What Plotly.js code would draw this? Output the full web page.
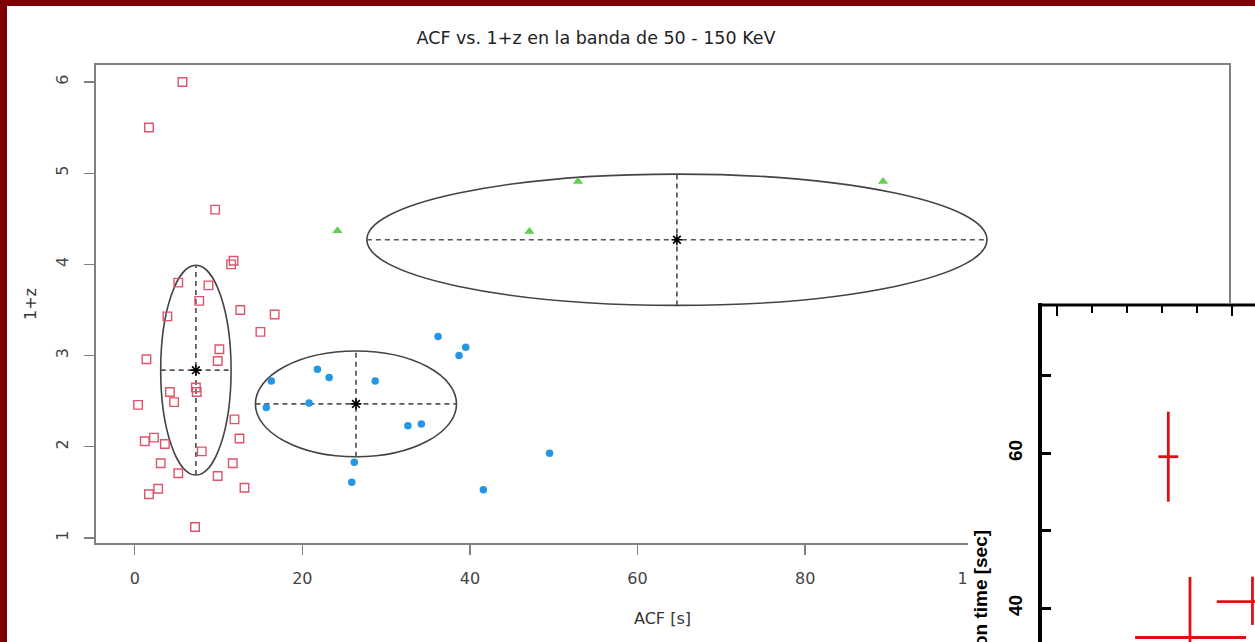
<!DOCTYPE html>
<html>
<head>
<meta charset="utf-8">
<script src="https://cdn.plot.ly/plotly-3.0.1.min.js"></script>
<style>
html,body{margin:0;padding:0;background:#fff;}
#chart{width:1255px;height:642px;}
</style>
</head>
<body>
<div id="chart"></div>
<script>
// ---- Main chart data: ACF [s] vs 1+z ----
var redX = [5.7, 1.7, 9.6, 11.5, 11.8, 5.2, 8.8, 7.7, 3.9, 12.6, 16.7, 15.0, 1.4, 10.1, 9.9, 7.3, 7.4, 4.2, 4.7, 0.4, 11.9, 12.5, 1.2, 2.3, 3.6, 8.0, 3.1, 11.7, 5.2, 9.9, 1.7, 2.8, 13.1, 7.2];
var redY = [6.0, 5.5, 4.6, 4.0, 4.04, 3.8, 3.77, 3.6, 3.43, 3.5, 3.45, 3.26, 2.96, 3.07, 2.94, 2.65, 2.6, 2.6, 2.49, 2.46, 2.3, 2.09, 2.06, 2.1, 2.03, 1.95, 1.82, 1.82, 1.71, 1.68, 1.48, 1.54, 1.55, 1.12];

var blueX = [16.3, 15.7, 21.8, 23.2, 20.8, 28.7, 32.6, 34.2, 36.2, 39.5, 38.7, 26.2, 25.9, 49.5, 41.6];
var blueY = [2.72, 2.43, 2.85, 2.76, 2.48, 2.72, 2.23, 2.25, 3.21, 3.09, 3.0, 1.83, 1.61, 1.93, 1.53];

var greenX = [24.2, 47.1, 52.9, 89.3];
var greenY = [4.37, 4.36, 4.91, 4.91];

// ellipse centres and semi-axes (red, blue, green groups)
var ellCX = [7.3, 26.4, 64.7];
var ellCY = [2.84, 2.47, 4.27];
var ellAX = [4.2, 12.0, 37.0];
var ellAY = [1.15, 0.58, 0.72];

var xTicks = [0, 20, 40, 60, 80, 100];
var yTicks = [1, 2, 3, 4, 5, 6];

// ---- Inset data (partially visible second chart) ----
var insX = [1.636, 1.76, 2.117];
var insY = [59.56, 36.23, 40.85];
var insXErrPlus = [0.057, 0.32, 0.204];
var insXErrMinus = [0.057, 0.314, 0.204];
var insYErrPlus = [5.81, 7.81, 3.23];
var insYErrMinus = [5.81, 7.81, 3.0];
var insYTicks = [40, 60];
var insYMinor = [50, 70];
var insXTicks = [1, 2];
var insXMinor = [1.2, 1.4, 1.6, 1.8];

// ---- helpers: pixel -> paper ----
var W = 1255, H = 642;
function px(x){ return x / W; }
function py(y){ return 1 - y / H; }

var font = 'DejaVu Sans, Verdana, sans-serif';
var insFont = 'Liberation Sans, Arial, sans-serif';

var traces = [
  {x: redX, y: redY, type: 'scatter', mode: 'markers', xaxis: 'x', yaxis: 'y',
   marker: {symbol: 'square-open', size: 8.5, color: '#DF536B', line: {width: 1.4, color: '#DF536B'}}, showlegend: false},
  {x: blueX, y: blueY, type: 'scatter', mode: 'markers', xaxis: 'x', yaxis: 'y',
   marker: {symbol: 'circle', size: 7.5, color: '#2297E6'}, showlegend: false},
  {x: greenX, y: greenY, type: 'scatter', mode: 'markers', xaxis: 'x', yaxis: 'y',
   marker: {symbol: 'triangle-up', size: 9, color: '#61D04F'}, showlegend: false},
  {x: ellCX, y: ellCY, type: 'scatter', mode: 'markers', xaxis: 'x', yaxis: 'y',
   marker: {symbol: 'asterisk-open', size: 9, color: '#000', line: {width: 1.6, color: '#000'}}, showlegend: false},
  {x: insX, y: insY, type: 'scatter', mode: 'markers', xaxis: 'x2', yaxis: 'y2',
   marker: {size: 1, opacity: 0, color: '#e01010'}, showlegend: false,
   error_x: {type: 'data', symmetric: false, array: insXErrPlus, arrayminus: insXErrMinus, color: '#e01010', thickness: 2.8, width: 0},
   error_y: {type: 'data', symmetric: false, array: insYErrPlus, arrayminus: insYErrMinus, color: '#e01010', thickness: 2.8, width: 0}}
];

var shapes = [];
for (var i = 0; i < ellCX.length; i++) {
  shapes.push({type: 'circle', xref: 'x', yref: 'y', layer: 'below',
    x0: ellCX[i] - ellAX[i], x1: ellCX[i] + ellAX[i], y0: ellCY[i] - ellAY[i], y1: ellCY[i] + ellAY[i],
    line: {color: '#444', width: 1.6}});
  shapes.push({type: 'line', xref: 'x', yref: 'y', layer: 'below',
    x0: ellCX[i] - ellAX[i], x1: ellCX[i] + ellAX[i], y0: ellCY[i], y1: ellCY[i],
    line: {color: '#555', width: 1.7, dash: '5px,4px'}});
  shapes.push({type: 'line', xref: 'x', yref: 'y', layer: 'below',
    x0: ellCX[i], x1: ellCX[i], y0: ellCY[i] - ellAY[i], y1: ellCY[i] + ellAY[i],
    line: {color: '#555', width: 1.7, dash: '5px,4px'}});
}
// slide border (dark red) and inset top frame line
shapes.push({type: 'rect', xref: 'paper', yref: 'paper', layer: 'above', x0: 0, x1: 1, y0: py(6), y1: 1, fillcolor: '#7d0000', line: {width: 0}});
shapes.push({type: 'rect', xref: 'paper', yref: 'paper', layer: 'above', x0: 0, x1: px(7), y0: 0, y1: 1, fillcolor: '#7d0000', line: {width: 0}});
shapes.push({type: 'line', xref: 'paper', yref: 'paper', layer: 'above', x0: px(1038), x1: 1, y0: py(305), y1: py(305), line: {color: '#000', width: 3}});

var layout = {
  width: W, height: H,
  margin: {l: 0, r: 0, t: 0, b: 0},
  paper_bgcolor: '#ffffff',
  plot_bgcolor: '#ffffff',
  showlegend: false,
  title: {text: 'ACF vs. 1+z en la banda de 50 - 150 KeV', x: px(596), xanchor: 'center', xref: 'paper',
          y: py(38), yanchor: 'middle', yref: 'paper', font: {family: font, size: 17.5, color: '#222'}},
  xaxis: {domain: [px(96), px(1229)], range: [-4.62, 130.58], anchor: 'y',
          tickmode: 'array', tickvals: xTicks, ticks: 'outside', ticklen: 10, tickwidth: 1.3, tickcolor: '#808080',
          showline: true, mirror: true, linecolor: '#808080', linewidth: 1.6, showgrid: false, zeroline: false,
          tickfont: {family: font, size: 16, color: '#444'}, ticklabelstandoff: 10,
          title: {text: 'ACF [s]', font: {family: font, size: 16, color: '#333'}, standoff: 26}},
  yaxis: {domain: [py(543), py(65)], range: [0.945, 6.186], anchor: 'x',
          tickmode: 'array', tickvals: yTicks, ticks: 'outside', ticklen: 10, tickwidth: 1.3, tickcolor: '#808080',
          showline: true, mirror: true, linecolor: '#808080', linewidth: 1.6, showgrid: false, zeroline: false,
          tickangle: -90, tickfont: {family: font, size: 16, color: '#444'}, ticklabelstandoff: 10,
          title: {text: '1+z', font: {family: font, size: 16, color: '#333'}, standoff: 12}},
  xaxis2: {domain: [px(968), 1], range: [0.4914, 2.1314], anchor: 'free', position: py(305), side: 'top',
           showline: false, showgrid: false, zeroline: false, showticklabels: false,
           tickmode: 'array', tickvals: insXTicks, ticks: 'inside', ticklen: 10, tickwidth: 2.5, tickcolor: '#000',
           minor: {tickmode: 'array', tickvals: insXMinor, ticks: 'inside', ticklen: 7, tickwidth: 2.5, tickcolor: '#000', showgrid: false}},
  yaxis2: {domain: [0, py(303)], range: [35.65, 79.39], anchor: 'free', position: px(1040),
           showline: true, linecolor: '#000', linewidth: 4, showgrid: false, zeroline: false,
           tickmode: 'array', tickvals: insYTicks, ticks: 'inside', ticklen: 9, tickwidth: 3, tickcolor: '#000',
           minor: {tickmode: 'array', tickvals: insYMinor, ticks: 'inside', ticklen: 9, tickwidth: 3, tickcolor: '#000', showgrid: false},
           tickangle: -90, tickfont: {family: insFont, size: 19, color: '#000', weight: 'bold'}, ticklabelstandoff: 8},
  shapes: shapes,
  annotations: [
    {text: 'Duration time [sec]', textangle: -90, xref: 'paper', yref: 'paper', x: px(980), y: py(528),
     xanchor: 'center', yanchor: 'top', showarrow: false,
     font: {family: insFont, size: 19, color: '#000', weight: 'bold'}}
  ]
};

Plotly.newPlot('chart', traces, layout, {displayModeBar: false, staticPlot: true});
</script>
</body>
</html>
